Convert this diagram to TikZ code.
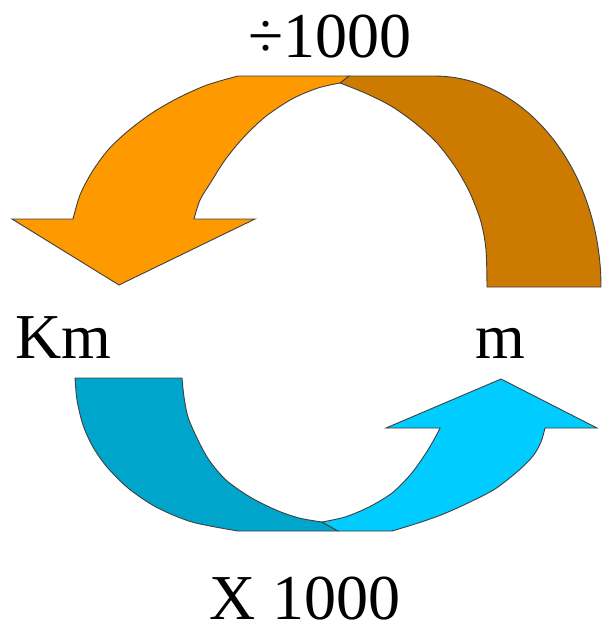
\documentclass[tikz,border=0pt]{standalone}
\usepackage{fontspec}
\setmainfont{Liberation Serif}
\definecolor{orangeA}{RGB}{255,153,0}
\definecolor{brownA}{RGB}{204,122,0}
\definecolor{blueDark}{RGB}{0,165,204}
\definecolor{blueLight}{RGB}{0,204,255}
\tikzset{
  band/.style={draw=black!75, line width=0.9pt, line join=miter},
  lbl/.style={inner sep=0pt, anchor=base, font=\fontsize{64}{70}\selectfont}
}
\begin{document}
\begin{tikzpicture}[x=1pt,y=-1pt]
\useasboundingbox (0,0) rectangle (602,634);
% top: brown part
\path[band, fill=brownA] (349,76) -- (434,76) arc[start angle=-90, end angle=0, x radius=167, y radius=211]
  -- (601,287) -- (487,287)
  -- plot[smooth] coordinates {(487,287) (486,250) (481,222) (470,193) (456,168) (437,143) (415,123) (391,106) (365,93) (340,83)}
  -- cycle;
% top: orange arrow
\path[band, fill=orangeA] (238,76) -- (349,76) -- (340,83)
  -- plot[smooth] coordinates {(340,83) (318,88) (292,99) (265,117) (243,138) (225,160) (211,182) (200,200) (194,219)}
  -- (255,219) -- (119,285) -- (12,219) -- (73,219)
  -- plot[smooth] coordinates {(73,219) (80,195) (92,172) (108,150) (128,131) (152,113) (178,98) (207,85) (238,76)}
  -- cycle;
% bottom: dark blue part
\path[band, fill=blueDark] (75,378) -- (182,378)
  -- plot[smooth] coordinates {(182,378) (184,397) (188,417) (197,438) (209,460) (226,480) (250,497) (276,510) (299,518) (322,522)}
  -- (338,531) -- (238,531)
  -- plot[smooth] coordinates {(238,531) (192,522) (156,507) (128,488) (107,467) (93,447) (83,425) (77,400) (75,378)}
  -- cycle;
% bottom: light blue arrow
\path[band, fill=blueLight] (322,522)
  -- plot[smooth] coordinates {(322,522) (345,517) (369,507) (392,493) (411,474) (426,453) (436,436) (440,428)}
  -- (386,428) -- (501,379) -- (597,428) -- (545,428)
  -- plot[smooth] coordinates {(545,428) (541,442) (533,456) (518,471) (495,489) (468,503) (441,515) (415,524) (392,531)}
  -- (338,531) -- cycle;
% labels
\node[lbl] (div) at (330,57) {÷1000};
\node[lbl, anchor=base west] (km) at (15,358) {Km};
\node[lbl] (m) at (500,358) {m};
\node[lbl] (mul) at (305,619) {X 1000};
\end{tikzpicture}
\end{document}
